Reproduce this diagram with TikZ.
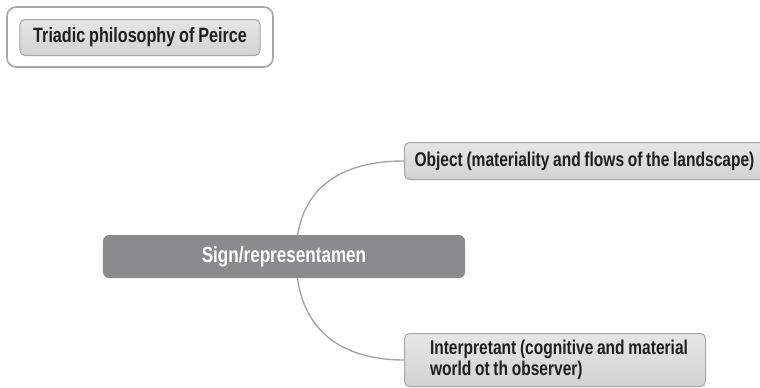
\documentclass[tikz,border=0pt]{standalone}
\usepackage{fontspec}
\setmainfont{Liberation Sans}[FakeStretch=0.78,WordSpace=0.85]
\usepackage{xcolor}
\usetikzlibrary{backgrounds}
\definecolor{boxL}{HTML}{E6E6E6}
\definecolor{boxD}{HTML}{D2D2D2}
\definecolor{edge}{HTML}{A6A6A6}
\definecolor{hub}{HTML}{8B8B8D}
\definecolor{ink}{HTML}{1E1E1E}
\tikzset{
  topic/.style={draw=edge,line width=1bp,rounded corners=5bp,top color=boxL,bottom color=boxD,
    text=ink,font=\bfseries\fontsize{20}{21}\selectfont,inner xsep=10bp,inner ysep=0bp},
  central/.style={fill=hub,rounded corners=6bp,text=white,
    font=\bfseries\fontsize{22}{24}\selectfont,minimum width=362bp,minimum height=43bp},
  link/.style={edge,line width=1.4bp}
}
\begin{document}
\begin{tikzpicture}[x=1bp,y=-1bp]
\useasboundingbox (0,0) rectangle (760,387);
% title
\draw[edge,line width=1.6bp,fill=white,rounded corners=9bp] (7,7) rectangle (273,67);
\node[topic,font=\bfseries\fontsize{20.8}{22}\selectfont,minimum width=240bp,minimum height=36bp]
  (peirce) at (140,37.5) {Triadic philosophy of Peirce};
% map
\node[central] (sign) at (284,256.5) {Sign/representamen};
\node[topic,anchor=west,minimum width=353bp,minimum height=37bp] (object) at (404,161)
  {Object (materiality and flows of the landscape)};
\node[topic,anchor=north west,align=left,inner ysep=4bp,minimum width=301bp,
  minimum height=53bp] (interp) at (404,333)
  {\hspace*{8bp}Interpretant (cognitive and material\\\hspace*{8bp}world ot th observer)};
\begin{pgfonlayer}{background}
\draw[link] ([xshift=12bp]sign.center) .. controls +(0,-75) and +(-55,0) .. (object.west);
\draw[link] ([xshift=12bp]sign.center) .. controls +(0,80) and +(-55,0) .. (interp.west|-0,360);
\end{pgfonlayer}
\end{tikzpicture}
\end{document}
